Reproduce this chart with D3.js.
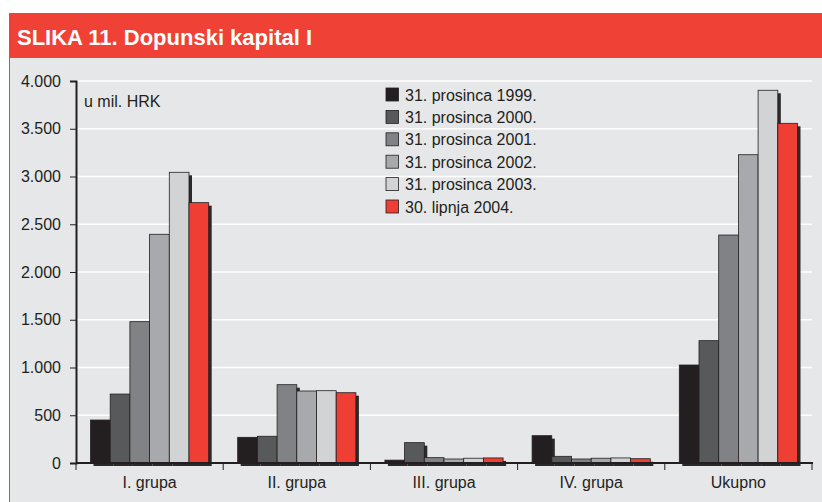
<!DOCTYPE html>
<html>
<head>
<meta charset="utf-8">
<script src="https://cdn.jsdelivr.net/npm/d3@7"></script>
<style>
  body { margin: 0; background: #fff; }
  svg { display: block; font-family: "Liberation Sans", Arial, sans-serif; }
</style>
</head>
<body>
<div id="chart"></div>
<script>
const categories = ['I. grupa', 'II. grupa', 'III. grupa', 'IV. grupa', 'Ukupno'];
const seriesNames = ['31. prosinca 1999.', '31. prosinca 2000.', '31. prosinca 2001.',
  '31. prosinca 2002.', '31. prosinca 2003.', '30. lipnja 2004.'];
const seriesColors = ['#231f20', '#58595b', '#808285', '#a7a9ac', '#d1d3d4', '#ef3e33'];
// one array per series, values per category (mil. HRK)
const v1999 = [450, 269, 30, 286, 1026];
const v2000 = [722, 280, 213, 70, 1281];
const v2001 = [1480, 820, 56, 42, 2387];
const v2002 = [2395, 754, 42, 50, 3228];
const v2003 = [3044, 757, 50, 53, 3903];
const v2004 = [2726, 736, 53, 45, 3557];
const yTicks = [0, 500, 1000, 1500, 2000, 2500, 3000, 3500, 4000];

const seriesValues = [v1999, v2000, v2001, v2002, v2003, v2004];

const W = 822, H = 502;
const margin = {top: 81, left: 76, right: 10, bottom: 39};
const fs = 16;

const svg = d3.select('#chart').append('svg')
    .attr('width', W)
    .attr('height', H);

// panel + header
svg.append('rect')
    .attr('x', 9).attr('y', 58).attr('width', W - 9).attr('height', H - 58)
    .attr('fill', '#e6e7e8');
svg.append('line')
    .attr('x1', 9.5).attr('x2', 9.5).attr('y1', 58).attr('y2', H)
    .attr('stroke', '#ef4136').attr('stroke-width', 1);
svg.append('rect')
    .attr('x', 9).attr('y', 13).attr('width', W - 9).attr('height', 45)
    .attr('fill', '#ef4136');
svg.append('text')
    .attr('x', 17).attr('y', 45)
    .attr('fill', '#fff')
    .attr('font-size', 22)
    .attr('font-weight', 'bold')
    .text('SLIKA 11. Dopunski kapital I');

const xEdges = d3.scalePoint()
    .domain(d3.range(categories.length + 1))
    .range([margin.left, 812]);

const y = d3.scaleLinear()
    .domain([0, 4000])
    .range([463, margin.top]);

// grid lines
svg.append('g')
    .selectAll('line')
    .data(yTicks.filter(d => d > 0))
    .enter()
    .append('line')
    .attr('x1', margin.left)
    .attr('x2', 812)
    .attr('y1', d => y(d))
    .attr('y2', d => y(d))
    .attr('stroke', '#fff')
    .attr('stroke-width', 1.5);

// category band: 5 equal slots
const band = d3.scaleBand()
    .domain(categories)
    .range([margin.left, 812]);
const inner = d3.scaleBand()
    .domain(d3.range(seriesNames.length))
    .range([14.5, band.bandwidth() - 14.5]);

const groups = svg.append('g')
    .selectAll('g')
    .data(categories)
    .enter()
    .append('g')
    .attr('transform', d => `translate(${band(d)},0)`);

// shadows first
groups.selectAll('rect.shadow')
    .data((c, i) => seriesValues.map((s, j) => ({j, v: s[i]})))
    .enter()
    .append('rect')
    .attr('class', 'shadow')
    .attr('x', d => inner(d.j) + 3)
    .attr('y', d => y(d.v) + 3)
    .attr('width', inner.bandwidth())
    .attr('height', d => y(0) - y(d.v))
    .attr('fill', '#2b2829');

groups.selectAll('rect.bar')
    .data((c, i) => seriesValues.map((s, j) => ({j, v: s[i]})))
    .enter()
    .append('rect')
    .attr('class', 'bar')
    .attr('x', d => inner(d.j))
    .attr('y', d => y(d.v))
    .attr('width', inner.bandwidth())
    .attr('height', d => y(0) - y(d.v))
    .attr('fill', d => seriesColors[d.j])
    .attr('stroke', '#231f20')
    .attr('stroke-width', 0.8);

// y axis
const yAxis = svg.append('g')
    .attr('transform', `translate(${margin.left},0)`)
    .call(d3.axisLeft(y)
        .tickValues(yTicks)
        .tickSize(6)
        .tickPadding(9)
        .tickFormat(d => d3.format(',')(d).replace(/,/g, '.')));
yAxis.select('.domain').attr('stroke', '#231f20').attr('stroke-width', 2);
yAxis.selectAll('.tick line').attr('stroke', '#231f20');
yAxis.selectAll('.tick text')
    .attr('fill', '#231f20')
    .attr('font-size', fs)
    .attr('font-family', '"Liberation Sans", Arial, sans-serif');

// x axis
const xAxis = svg.append('g')
    .attr('transform', `translate(0,${y(0)})`);
xAxis.append('line')
    .attr('x1', margin.left).attr('x2', 813)
    .attr('stroke', '#231f20').attr('stroke-width', 2);
xAxis.selectAll('line.tick')
    .data(xEdges.domain())
    .enter()
    .append('line')
    .attr('class', 'tick')
    .attr('x1', d => xEdges(d)).attr('x2', d => xEdges(d))
    .attr('y1', 0).attr('y2', 7)
    .attr('stroke', '#231f20');
xAxis.selectAll('text')
    .data(categories)
    .enter()
    .append('text')
    .attr('x', d => band(d) + band.bandwidth() / 2)
    .attr('y', 25)
    .attr('text-anchor', 'middle')
    .attr('font-size', fs)
    .attr('fill', '#231f20')
    .text(d => d);

svg.append('text')
    .attr('x', 84).attr('y', 107)
    .attr('font-size', fs)
    .attr('fill', '#231f20')
    .text('u mil. HRK');

// legend
const legend = svg.append('g')
    .attr('transform', 'translate(386,88)');
const li = legend.selectAll('g')
    .data(seriesNames)
    .enter()
    .append('g')
    .attr('transform', (d, i) => `translate(0,${i * 22.4})`);
li.append('rect')
    .attr('width', 12.5).attr('height', 13)
    .attr('fill', (d, i) => seriesColors[i])
    .attr('stroke', '#231f20')
    .attr('stroke-width', 0.8);
li.append('text')
    .attr('x', 19).attr('y', 12.5)
    .attr('font-size', fs)
    .attr('fill', '#231f20')
    .text(d => d);
</script>
</body>
</html>
